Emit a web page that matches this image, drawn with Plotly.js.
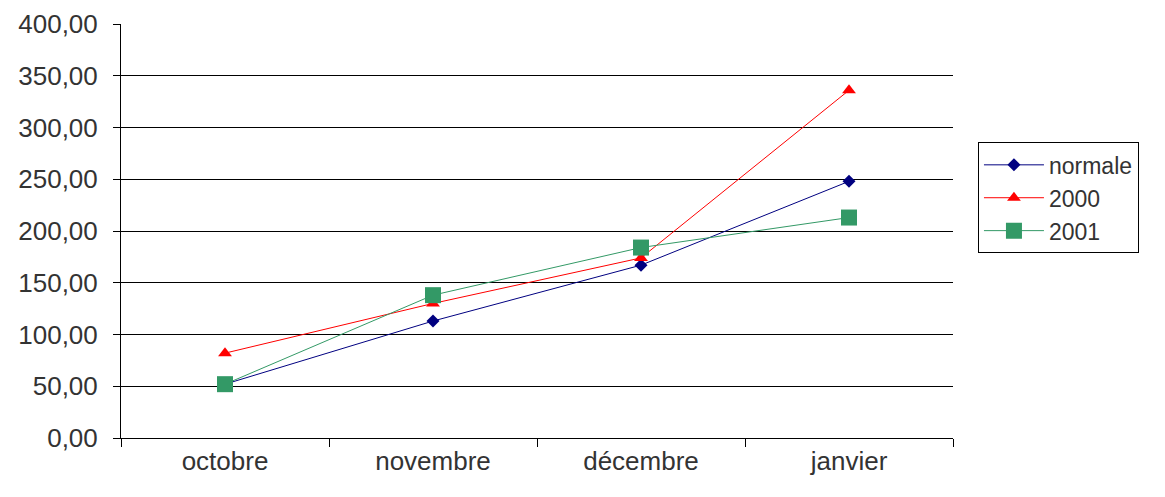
<!DOCTYPE html>
<html><head><meta charset="utf-8">
<script src="https://cdn.plot.ly/plotly-3.0.1.min.js"></script>
<style>html,body{margin:0;padding:0;background:#fff}#c{width:1165px;height:497px}</style>
</head><body><div id="c"></div>
<script>
const categories = ["octobre", "novembre", "décembre", "janvier"];
const normale = [52, 113, 167, 248];
const s2000 = [82, 130, 174, 336];
const s2001 = [52, 138, 184, 213];
const yTicks = [0, 50, 100, 150, 200, 250, 300, 350, 400];
const gridTicks = [50, 100, 150, 200, 250, 300, 350];

const traces = [
  {x: categories, y: normale, name: "normale", mode: "lines+markers", type: "scatter",
   line: {color: "#000080", width: 1}, marker: {symbol: "diamond", size: 10, color: "#000080"}},
  {x: categories, y: s2000, name: "2000", mode: "lines+markers", type: "scatter",
   line: {color: "#FF0000", width: 1}, marker: {symbol: "triangle-up", size: 12, color: "#FF0000"}},
  {x: categories, y: s2001, name: "2001", mode: "lines+markers", type: "scatter",
   line: {color: "#339966", width: 1}, marker: {symbol: "square", size: 16, color: "#339966"}},
  {x: categories, y: [null, null, null, null], yaxis: "y2", showlegend: false, hoverinfo: "skip", type: "scatter", mode: "lines"}
];

const layout = {
  width: 1165, height: 497,
  margin: {l: 121, r: 212, t: 24, b: 59},
  paper_bgcolor: "#fff", plot_bgcolor: "#fff",
  separators: ", ",
  font: {family: "Liberation Sans, Arial, sans-serif", size: 26, color: "#333"},
  showlegend: true,
  legend: {x: 1.03, y: 0.58, xanchor: "left", yanchor: "middle", bordercolor: "#000", borderwidth: 1,
           font: {size: 23, color: "#333"}, itemwidth: 60},
  xaxis: {type: "category", tickson: "boundaries", ticks: "outside", ticklen: 8, tickcolor: "#000",
          showline: true, linecolor: "#000", linewidth: 1, showgrid: false,
          tickfont: {size: 26}, range: [-0.5, 3.5]},
  yaxis: {range: [0, 400], tickvals: yTicks, tickformat: ".2f", ticks: "outside", ticklen: 7, tickcolor: "#000",
          showline: true, linecolor: "#000", linewidth: 1, showgrid: false, zeroline: false,
          tickfont: {size: 26}, ticklabelstandoff: 10},
  yaxis2: {overlaying: "y", range: [0, 400], tickvals: gridTicks, showticklabels: false, ticks: "",
           showgrid: true, gridcolor: "#000", gridwidth: 1, zeroline: false, showline: false}
};
Plotly.newPlot("c", traces, layout, {displayModeBar: false, staticPlot: true});
</script></body></html>
